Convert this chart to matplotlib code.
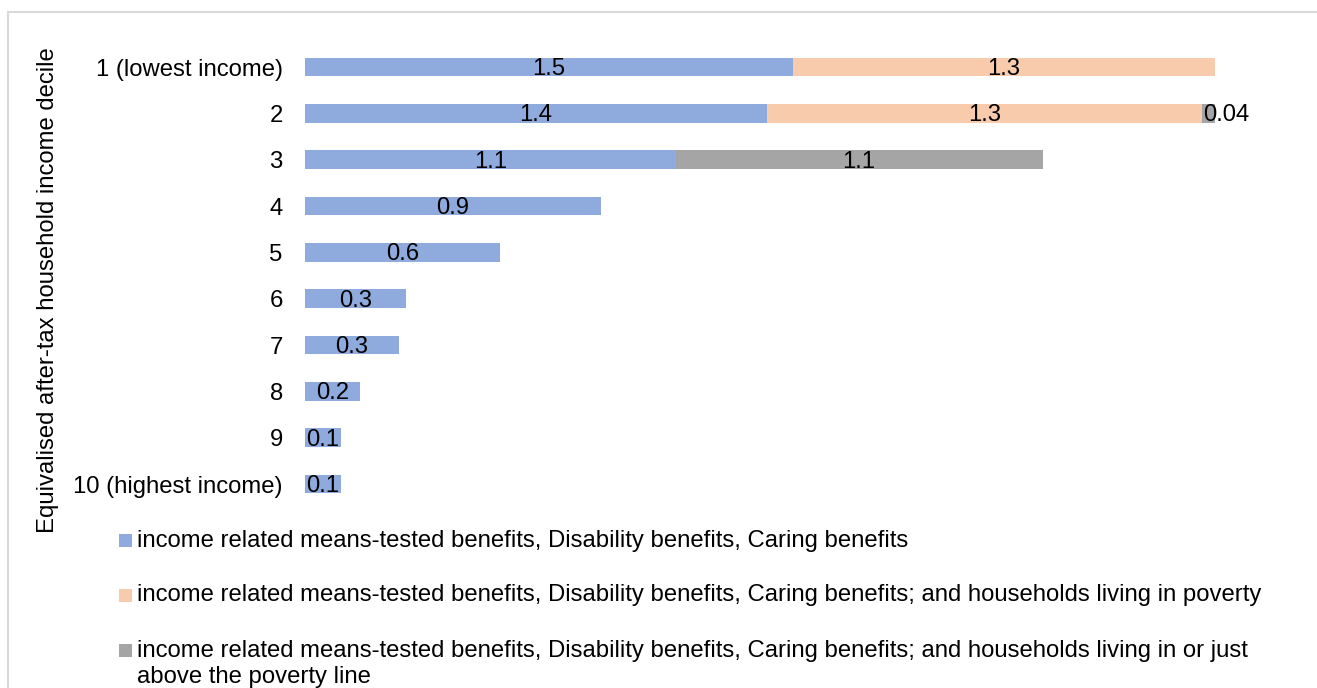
"""Stacked horizontal bars by income decile."""

import matplotlib
import numpy as np
from matplotlib import pyplot as plt
from matplotlib.patches import Rectangle

deciles = [
    "1 (lowest income)", "2", "3", "4", "5", "6", "7", "8", "9", "10 (highest income)",
]
benefits = [1.50, 1.42, 1.14, 0.91, 0.60, 0.31, 0.29, 0.17, 0.11, 0.11]
poverty = [1.30, 1.34, 0.0, 0.0, 0.0, 0.0, 0.0, 0.0, 0.0, 0.0]
near_poverty = [0.0, 0.04, 1.13, 0.0, 0.0, 0.0, 0.0, 0.0, 0.0, 0.0]
series_labels = [
    "income related means-tested benefits, Disability benefits, Caring benefits",
    "income related means-tested benefits, Disability benefits, Caring benefits; "
    "and households living in poverty",
    "income related means-tested benefits, Disability benefits, Caring benefits; "
    "and households living in or just\nabove the poverty line",
]
colors = ["#8FAADC", "#F8CBAD", "#A5A5A5"]
y_title = "Equivalised after-tax household income decile"

W, H = 1317, 688
FS = 17.2


def _fmt(v: float) -> str:
    return f"{v:.2f}" if v < 0.095 else f"{v:.1f}"


def _main() -> None:
    matplotlib.rcParams.update({"font.family": ["Liberation Sans", "DejaVu Sans"],
                                "font.size": FS})
    fig = plt.figure(figsize=(W / 100, H / 100), dpi=100)
    ax = fig.add_axes([305 / W, 1 - 507.2 / H, 975 / W, 463.3 / H])

    y = np.arange(len(deciles))
    left = np.zeros(len(deciles))
    for vals, col in zip([benefits, poverty, near_poverty], colors):
        vals = np.array(vals)
        bars = ax.barh(y, vals, left=left, height=0.4, color=col)
        for bar, v, l in zip(bars, vals, left):
            if v <= 0:
                continue
            cy = bar.get_y() + bar.get_height() / 2
            if v < 0.095:
                ax.annotate(_fmt(v), (l, cy), xytext=(1, -1.5), textcoords="offset points",
                            ha="left", va="center", fontsize=FS)
            else:
                ax.annotate(_fmt(v), (l + v / 2, cy), xytext=(0, -1.5),
                            textcoords="offset points", ha="center", va="center",
                            fontsize=FS)
        left = left + vals

    ax.set_xlim(0, 3.0)
    ax.set_ylim(len(deciles) - 0.5, -0.5)
    ax.set_yticks(y)
    ax.set_yticklabels(deciles)
    ax.set_xticks([])
    ax.tick_params(axis="y", length=0, pad=16)
    for s in ax.spines.values():
        s.set_visible(False)
    ax.set_ylabel(y_title, fontsize=FS, va="center")
    ax.yaxis.set_label_coords((48 - 305) / 975, (507.2 - 290) / 463.3)

    # legend drawn by hand so the wrapped label lines up with its first line
    baselines = [546.5, 601.5, 656.5]
    for lab, col, b in zip(series_labels, colors, baselines):
        fig.add_artist(Rectangle((119 / W, 1 - b / H), 13 / W, 13 / H,
                                 transform=fig.transFigure, color=col, lw=0))
        for i, line in enumerate(lab.split("\n")):
            fig.text(137 / W, 1 - (b + 26 * i) / H, line, ha="left", va="baseline",
                     fontsize=FS)

    # chart frame
    fig.add_artist(Rectangle((7.5 / W, -0.1), 1.2, 1 - 12 / H + 0.1,
                             transform=fig.transFigure, fill=False,
                             edgecolor="#D9D9D9", lw=1.5))

    fig.savefig("out.png", dpi=100)


if __name__ == "__main__":
    _main()
